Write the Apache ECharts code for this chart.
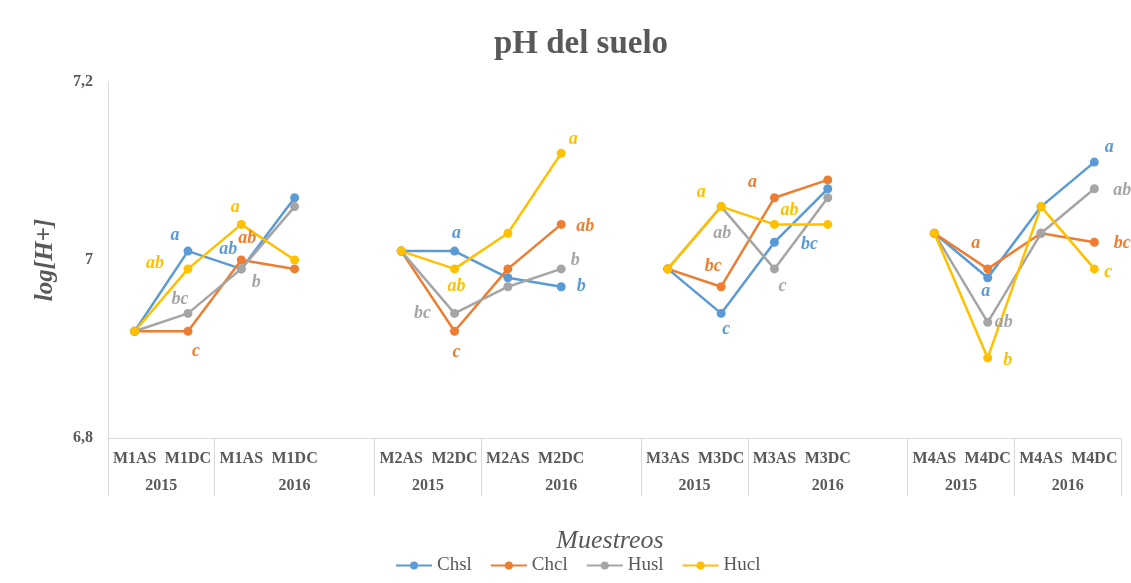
<!DOCTYPE html>
<html>
<head>
<meta charset="utf-8">
<title>pH del suelo</title>
<script src="https://cdn.jsdelivr.net/npm/echarts@6/dist/echarts.min.js"></script>
<style>
  html, body { margin: 0; padding: 0; background: #ffffff; }
  #chart { width: 1131px; height: 583px; }
</style>
</head>
<body>
<div id="chart"></div>
<script>
// Sampling categories (empty strings are spacer slots between sampling sites)
const categories = [
  'M1AS', 'M1DC', 'M1AS', 'M1DC', '',
  'M2AS', 'M2DC', 'M2AS', 'M2DC', '',
  'M3AS', 'M3DC', 'M3AS', 'M3DC', '',
  'M4AS', 'M4DC', 'M4AS', 'M4DC'
];
// Year each category slot belongs to (spacers sit inside the 2016 block)
const categoryYears = [
  '2015', '2015', '2016', '2016', '2016',
  '2015', '2015', '2016', '2016', '2016',
  '2015', '2015', '2016', '2016', '2016',
  '2015', '2015', '2016', '2016'
];

// log[H+] values per treatment
const chsl = [6.92, 7.01, 6.99, 7.07, null, 7.01, 7.01, 6.98, 6.97, null, 6.99, 6.94, 7.02, 7.08, null, 7.03, 6.98, 7.06, 7.11];
const chcl = [6.92, 6.92, 7.00, 6.99, null, 7.01, 6.92, 6.99, 7.04, null, 6.99, 6.97, 7.07, 7.09, null, 7.03, 6.99, 7.03, 7.02];
const husl = [6.92, 6.94, 6.99, 7.06, null, 7.01, 6.94, 6.97, 6.99, null, 6.99, 7.06, 6.99, 7.07, null, 7.03, 6.93, 7.03, 7.08];
const hucl = [6.92, 6.99, 7.04, 7.00, null, 7.01, 6.99, 7.03, 7.12, null, 6.99, 7.06, 7.04, 7.04, null, 7.03, 6.89, 7.06, 6.99];

// Significance letters per point ('' = no letter)
const chslLetters = ['', 'a', 'ab', '', '', '', 'a', '', 'b', '', '', 'c', 'bc', '', '', '', 'a', '', 'a'];
const chclLetters = ['', 'c', 'ab', '', '', '', 'c', '', 'ab', '', '', 'bc', 'a', '', '', '', 'a', '', 'bc'];
const huslLetters = ['', 'bc', 'b', '', '', '', 'bc', '', 'b', '', '', 'ab', 'c', '', '', '', 'ab', '', 'ab'];
const huclLetters = ['', 'ab', 'a', '', '', '', 'ab', '', 'a', '', '', 'a', 'ab', '', '', '', 'b', '', 'c'];

const seriesNames = ['Chsl', 'Chcl', 'Husl', 'Hucl'];
const yTicks = [6.8, 7.0, 7.2];

// Where each letter sits relative to its point, in pixels [dx, dy]
const letterOffsets = {
  Chsl: { 1: [-13, -16], 2: [-13, -20], 6: [2, -18], 8: [20, 0], 11: [5, 16], 12: [35, 2], 16: [-2, 14], 18: [15, -15] },
  Chcl: { 1: [8, 20], 2: [6, -22], 6: [2, 21], 8: [24, 2], 11: [-8, -20], 12: [-22, -15], 16: [-12, -26], 18: [28, 1] },
  Husl: { 1: [-8, -14], 2: [15, 13], 6: [-32, 0], 8: [14, -9], 11: [1, 27], 12: [8, 17], 16: [16, 0], 18: [28, 2] },
  Hucl: { 1: [-33, -6], 2: [-6, -17], 6: [2, 17], 8: [12, -14], 11: [-20, -14], 12: [15, -14], 16: [20, 2], 18: [14, 3] }
};

const colors = { Chsl: '#5B9BD5', Chcl: '#ED7D31', Husl: '#A5A5A5', Hucl: '#FFC000' };
const valuesByName = { Chsl: chsl, Chcl: chcl, Husl: husl, Hucl: hucl };
const lettersByName = { Chsl: chslLetters, Chcl: chclLetters, Husl: huslLetters, Hucl: huclLetters };

// Year blocks: contiguous runs of the same year within each site
const yearBlocks = [];
for (let i = 0; i < categoryYears.length; i++) {
  const prev = yearBlocks[yearBlocks.length - 1];
  const newSite = i > 0 && categoryYears[i] === '2015' && categoryYears[i - 1] !== '2015';
  if (prev && prev.year === categoryYears[i] && !newSite) {
    prev.end = i + 1;
  } else {
    yearBlocks.push({ year: categoryYears[i], start: i, end: i + 1 });
  }
}
const blockEdges = [0].concat(yearBlocks.map(b => b.end));
const blockCenters = yearBlocks.map(b => (b.start + b.end) / 2);

const serif = '"Liberation Serif", "Times New Roman", serif';
const textGray = '#595959';
const axisGray = '#d9d9d9';

function buildData(name) {
  const vals = valuesByName[name];
  const letters = lettersByName[name];
  return vals.map((v, i) => {
    const letter = letters[i];
    if (!letter) return { value: v, label: { show: false } };
    return { value: v, label: { show: true, formatter: letter } };
  });
}

const chart = echarts.init(document.getElementById('chart'), null, { renderer: 'canvas' });

chart.setOption({
  backgroundColor: '#ffffff',
  animation: false,
  title: [
    {
      text: 'pH del suelo',
      left: 576,
      top: 23,
      textAlign: 'center',
      textStyle: { fontFamily: serif, fontWeight: 'bold', fontSize: 33, color: textGray }
    },
    {
      text: 'Muestreos',
      left: 605,
      top: 523,
      textAlign: 'center',
      textStyle: { fontFamily: serif, fontStyle: 'italic', fontWeight: 'normal', fontSize: 26, color: textGray }
    }
  ],
  legend: {
    data: seriesNames,
    top: 551,
    left: 390,
    itemWidth: 36,
    itemHeight: 10,
    itemGap: 18,
    textStyle: { fontFamily: serif, fontSize: 19, color: textGray }
  },
  grid: { left: 108, right: 10, top: 82, bottom: 145, containLabel: false },
  xAxis: [
    {
      type: 'category',
      data: categories,
      boundaryGap: true,
      axisLine: { show: false },
      axisTick: { show: false },
      splitLine: { show: false },
      axisLabel: {
        interval: 0,
        margin: 13,
        fontFamily: serif,
        fontWeight: 'bold',
        fontSize: 16,
        color: textGray
      }
    },
    {
      type: 'value',
      min: 0,
      max: categories.length,
      position: 'bottom',
      axisLine: { show: true, lineStyle: { color: axisGray, width: 1 } },
      axisTick: {
        show: true,
        inside: false,
        length: 58,
        customValues: blockEdges,
        lineStyle: { color: axisGray, width: 1 }
      },
      axisLabel: {
        show: true,
        margin: 40,
        customValues: blockCenters,
        showMinLabel: true,
        showMaxLabel: true,
        formatter: function (v) {
          const idx = blockCenters.findIndex(c => Math.abs(c - v) < 1e-6);
          return idx >= 0 ? yearBlocks[idx].year : '';
        },
        fontFamily: serif,
        fontWeight: 'bold',
        fontSize: 16,
        color: textGray
      },
      splitLine: { show: false }
    }
  ],
  yAxis: {
    type: 'value',
    min: yTicks[0],
    max: yTicks[yTicks.length - 1],
    interval: 0.2,
    name: 'log[H+]',
    nameLocation: 'middle',
    nameGap: 50,
    nameRotate: 90,
    nameTextStyle: { fontFamily: serif, fontStyle: 'italic', fontWeight: 'bold', fontSize: 25, color: textGray },
    axisLine: { show: true, lineStyle: { color: axisGray, width: 1 } },
    axisTick: { show: false },
    splitLine: { show: false },
    axisLabel: {
      margin: 15,
      fontFamily: serif,
      fontWeight: 'bold',
      fontSize: 16,
      color: textGray,
      formatter: function (v) {
        const r = Math.round(v * 10) / 10;
        return (Number.isInteger(r) ? String(r) : r.toFixed(1)).replace('.', ',');
      }
    }
  },
  series: seriesNames.map(name => ({
    name: name,
    type: 'line',
    xAxisIndex: 0,
    yAxisIndex: 0,
    data: buildData(name),
    connectNulls: false,
    symbol: 'circle',
    symbolSize: 9,
    itemStyle: { color: colors[name] },
    lineStyle: { color: colors[name], width: 2.5 },
    label: {
      position: 'inside',
      align: 'center',
      verticalAlign: 'middle',
      fontFamily: serif,
      fontStyle: 'italic',
      fontWeight: 'bold',
      fontSize: 18,
      color: colors[name]
    },
    labelLayout: function (params) {
      const o = letterOffsets[name][params.dataIndex] || [0, -14];
      return { dx: o[0], dy: o[1], hideOverlap: false };
    },
    emphasis: { disabled: true }
  }))
});
</script>
</body>
</html>
